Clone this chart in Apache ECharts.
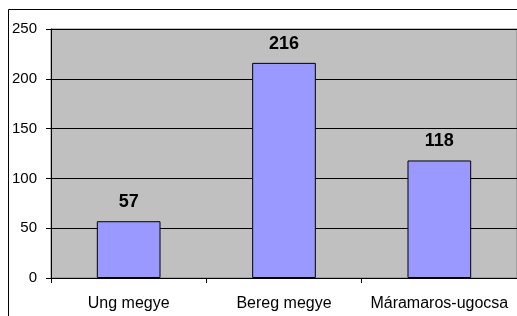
<!DOCTYPE html>
<html><head><meta charset="utf-8">
<script src="https://cdn.jsdelivr.net/npm/echarts@6/dist/echarts.min.js"></script>
<style>html,body{margin:0;padding:0;background:#fff}#c{width:517px;height:316px}</style>
</head><body><div id="c"></div>
<script>
var categories = ['Ung megye', 'Bereg megye', 'Máramaros-ugocsa'];
var values = [57, 216, 118];
var yTicks = [0, 50, 100, 150, 200, 250];

var chart = echarts.init(document.getElementById('c'), null, {renderer: 'canvas'});
chart.setOption({
  animation: false,
  graphic: [{
    type: 'rect', z: 100, silent: true,
    shape: {x: 8.5, y: 9.5, width: 600, height: 400},
    style: {fill: 'none', stroke: '#000', lineWidth: 1}
  }],
  grid: {left: 51, right: -2, top: 29, bottom: 38, show: true, backgroundColor: '#c0c0c0', borderColor: '#808080', borderWidth: 1},
  xAxis: {
    type: 'category', data: categories,
    axisLine: {show: true, lineStyle: {color: '#000'}},
    axisTick: {show: true, length: 5, lineStyle: {color: '#000'}},
    axisLabel: {interval: 0, hideOverlap: false, color: '#000', fontFamily: 'Liberation Sans', fontSize: 16, margin: 18}
  },
  yAxis: {
    type: 'value', min: yTicks[0], max: yTicks[yTicks.length - 1], interval: 50,
    axisLine: {show: true, lineStyle: {color: '#000'}},
    axisTick: {show: true, length: 5, lineStyle: {color: '#000'}},
    axisLabel: {color: '#000', fontFamily: 'Liberation Sans', fontSize: 15, margin: 14},
    splitLine: {show: true, lineStyle: {color: '#000', width: 1}}
  },
  series: [{
    type: 'bar', data: values, barWidth: '41%',
    itemStyle: {color: '#9999ff', borderColor: '#000', borderWidth: 1},
    label: {show: true, position: 'top', distance: 10, color: '#000', fontWeight: 'bold', fontSize: 18, fontFamily: 'Liberation Sans'}
  }]
});
</script></body></html>
